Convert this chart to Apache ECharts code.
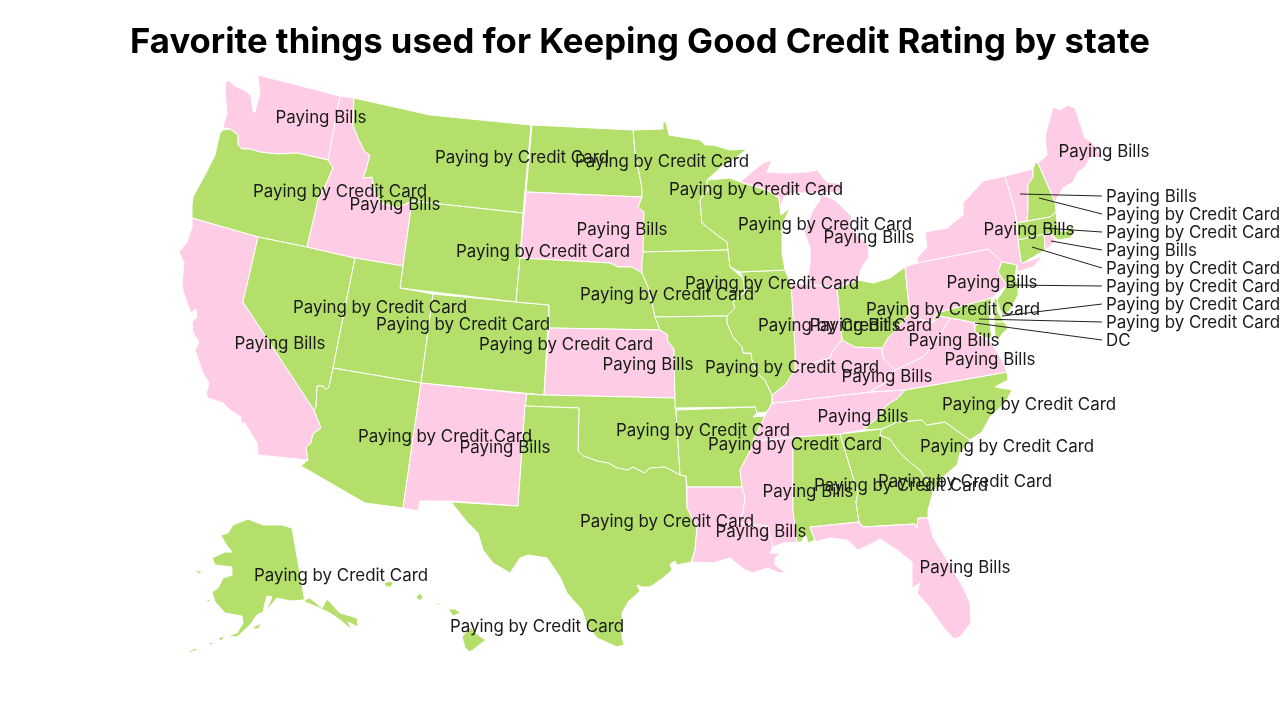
<!DOCTYPE html>
<html>
<head>
<meta charset="utf-8">
<title>Favorite things used for Keeping Good Credit Rating by state</title>
<style>
html, body { margin: 0; padding: 0; background: #fff; }
#chart { width: 1280px; height: 720px; }
</style>
<script src="https://cdn.jsdelivr.net/npm/echarts@6/dist/echarts.min.js"></script>
</head>
<body>
<div id="chart"></div>
<script>
var TITLE = 'Favorite things used for Keeping Good Credit Rating by state';
var BILLS = 'Paying Bills';
var CARD = 'Paying by Credit Card';

// states that carry their label on the map
var STATE_NAMES = ['Washington','Oregon','Idaho','Montana','North Dakota','Minnesota','Wisconsin','Michigan','Wyoming','South Dakota','Nebraska','Iowa','Nevada','Utah','Colorado','Kansas','California','Arizona','New Mexico','Oklahoma','Arkansas','Texas','Louisiana','Mississippi','Alabama','Georgia','South Carolina','North Carolina','Tennessee','Kentucky','Virginia','West Virginia','Illinois','Ohio','Indiana','Pennsylvania','Missouri','New York','Maine','Florida','Alaska','Hawaii'];
var STATE_TOPICS = [BILLS,CARD,BILLS,CARD,CARD,CARD,CARD,BILLS,CARD,BILLS,CARD,CARD,CARD,CARD,CARD,BILLS,BILLS,CARD,BILLS,CARD,CARD,CARD,BILLS,BILLS,CARD,CARD,CARD,CARD,BILLS,BILLS,BILLS,BILLS,CARD,CARD,BILLS,BILLS,CARD,BILLS,BILLS,BILLS,CARD,CARD];
var LABEL_X = [321,340,395,522,662,756,825,869,543,622,667,772,380,463,566,648,280,445,505,703,795,667,761,808,901,965,1007,1029,863,887,990,954,845,953,855,992,792,1029,1104,965,341,537];
var LABEL_Y = [118,192,205,158,162,190,225,238,252,230,295,284,308,325,345,365,344,437,448,431,445,522,532,492,486,482,447,405,417,377,360,341,326,310,326,283,368,230,152,568,576,627];

// small states labelled in the column on the right
var CALLOUT_NAMES = ['Vermont','New Hampshire','Massachusetts','Rhode Island','Connecticut','New Jersey','Delaware','Maryland','District of Columbia'];
var CALLOUT_TOPICS = [BILLS,CARD,CARD,BILLS,CARD,CARD,CARD,CARD,'DC'];
var CALLOUT_FROM_X = [1020,1039,1043,1051,1032,1007,1002,979,975];
var CALLOUT_FROM_Y = [194,198,228,241,247,285,316,319,323];
var CALLOUT_TO_X = [1102,1102,1102,1102,1102,1102,1102,1102,1102];
var CALLOUT_TO_Y = [196,214,232,250,268,286,304,322,340];
var CALLOUT_TEXT_X = 1106;
var CALLOUT_TEXT_Y = [197,215,233,251,269,287,305,323,341];

// map shapes, traced in picture units
var OUTLINES = {
  'Washington': [[[226,82],[228,80],[235,86],[246,91],[251,96],[253,111],[255,112],[258,100],[260,93],[259,86],[258,75],[340,96],[328,160],[297,153],[277,154],[260,152],[250,149],[242,149],[238,145],[238,135],[230,129],[223,128],[224,123],[227,113],[225,90]]],
  'Oregon': [[[223,130],[230,129],[238,135],[238,145],[242,149],[250,149],[260,152],[277,154],[297,153],[328,160],[333,168],[327,182],[318,200],[307,247],[258,237],[192,218],[192,205],[193,197],[205,175],[215,155],[220,133]]],
  'California': [[[192,218],[258,237],[243,302],[314,410],[321,428],[313,434],[311,443],[306,447],[308,460],[258,455],[257,443],[245,423],[241,423],[241,417],[230,410],[223,403],[208,398],[206,394],[209,383],[203,373],[195,350],[199,342],[193,333],[192,322],[197,317],[196,309],[191,313],[187,303],[182,287],[183,273],[184,263],[179,252],[187,242],[192,227]]],
  'Nevada': [[[258,237],[307,247],[355,258],[333,368],[329,387],[326,390],[323,386],[317,386],[316,408],[314,410],[243,302]]],
  'Idaho': [[[340,96],[354,98],[353,125],[358,138],[365,152],[370,155],[366,170],[363,178],[372,177],[375,193],[380,202],[397,208],[412,201],[403,266],[355,258],[307,247],[318,200],[327,182],[333,168],[328,160]]],
  'Montana': [[[354,98],[430,115],[531,125],[523,213],[412,201],[397,208],[380,202],[375,193],[372,177],[363,178],[366,170],[370,155],[365,152],[358,138],[353,125]]],
  'Wyoming': [[[412,201],[523,213],[520,258],[516,302],[400,288],[403,266]]],
  'Utah': [[[355,258],[403,266],[400,288],[433,294],[421,383],[333,368]]],
  'Colorado': [[[433,294],[516,302],[549,305],[544,395],[421,383]]],
  'Arizona': [[[333,368],[421,383],[403,508],[365,503],[301,466],[308,460],[306,447],[311,443],[313,434],[321,428],[314,410],[316,408],[317,386],[323,386],[326,390],[329,387]]],
  'New Mexico': [[[421,383],[527,394],[525,406],[518,506],[451,501],[420,501],[418,511],[403,508]]],
  'North Dakota': [[[532,125],[633,130],[635,152],[642,188],[642,197],[526,192]]],
  'South Dakota': [[[526,192],[642,197],[638,207],[644,212],[644,252],[642,262],[642,273],[632,267],[618,267],[610,263],[520,258]]],
  'Nebraska': [[[520,258],[610,263],[618,267],[632,267],[642,273],[648,287],[653,307],[655,317],[660,330],[549,328],[549,305],[516,302]]],
  'Kansas': [[[549,328],[660,330],[668,335],[667,340],[674,349],[675,398],[544,395]]],
  'Oklahoma': [[[527,394],[544,395],[675,398],[676,410],[680,475],[665,467],[650,468],[644,473],[633,467],[628,470],[617,468],[608,463],[597,461],[592,459],[583,456],[578,451],[579,408],[525,406]]],
  'Texas': [[[525,406],[579,408],[578,451],[583,456],[592,459],[597,461],[608,463],[617,468],[628,470],[633,467],[644,473],[650,468],[665,467],[680,475],[686,476],[687,508],[697,527],[695,550],[691,562],[677,565],[675,561],[670,564],[672,570],[663,578],[650,587],[642,587],[637,585],[640,591],[628,602],[622,613],[622,637],[624,645],[617,647],[597,638],[587,625],[582,610],[567,593],[560,577],[547,558],[528,555],[520,558],[510,573],[493,563],[483,550],[478,533],[467,522],[451,502],[518,506]]],
  'Minnesota': [[[633,130],[663,129],[663,122],[666,122],[669,135],[687,138],[700,140],[705,145],[713,145],[730,150],[747,149],[733,160],[720,168],[707,180],[708,190],[700,200],[702,223],[717,235],[727,242],[728,250],[643,252],[644,212],[638,207],[642,197],[642,188],[635,152]]],
  'Iowa': [[[643,252],[728,250],[730,267],[743,278],[745,292],[733,302],[735,308],[727,316],[655,317],[653,307],[648,287],[642,273],[642,262]]],
  'Missouri': [[[655,317],[727,316],[727,323],[733,337],[742,347],[743,353],[751,353],[752,360],[757,373],[765,380],[772,395],[772,403],[767,412],[757,413],[755,407],[675,408],[675,398],[674,349],[667,340],[668,335],[660,330]]],
  'Arkansas': [[[676,410],[755,407],[757,413],[753,417],[764,416],[767,412],[753,445],[740,470],[742,487],[687,487],[686,476],[680,475]]],
  'Louisiana': [[[687,487],[742,487],[745,497],[743,513],[738,523],[768,526],[773,547],[770,553],[780,553],[775,558],[775,565],[785,572],[780,573],[767,568],[753,573],[745,570],[730,558],[713,563],[692,562],[695,550],[697,527],[687,508]]],
  'Mississippi': [[[753,441],[793,437],[793,510],[797,542],[783,543],[773,547],[768,526],[738,523],[743,513],[745,497],[742,487],[740,470],[753,445]]],
  'Alabama': [[[793,437],[840,434],[850,467],[858,493],[856,502],[859,522],[810,527],[815,540],[808,543],[805,533],[802,542],[797,542],[793,510]]],
  'Georgia': [[[840,434],[882,429],[880,435],[890,439],[900,453],[910,462],[920,470],[927,480],[933,492],[928,510],[928,518],[918,518],[917,528],[915,524],[863,527],[859,522],[856,502],[858,493],[850,467]]],
  'Florida': [[[810,527],[859,522],[863,527],[915,524],[917,528],[918,518],[928,518],[933,537],[947,560],[963,587],[970,603],[971,623],[960,637],[954,639],[943,627],[930,608],[917,593],[920,583],[912,588],[912,562],[897,550],[880,539],[873,543],[858,550],[847,540],[830,538],[815,542],[815,540]]],
  'South Carolina': [[[882,429],[897,422],[922,420],[927,425],[945,422],[970,440],[960,453],[957,465],[943,477],[933,492],[927,480],[920,470],[910,462],[900,453],[890,439],[880,435]]],
  'North Carolina': [[[905,390],[1007,372],[1008,380],[995,387],[1012,390],[1005,403],[990,417],[982,432],[970,440],[945,422],[927,425],[922,420],[897,422],[882,429],[863,430],[877,418],[887,405],[898,398]]],
  'Tennessee': [[[772,403],[792,401],[870,392],[905,390],[898,398],[887,405],[877,418],[863,430],[840,434],[793,437],[753,441],[763,420],[767,412]]],
  'Kentucky': [[[842,340],[855,347],[882,348],[883,358],[895,370],[885,383],[870,392],[792,401],[772,403],[772,395],[785,385],[795,370],[815,362],[830,358],[832,352]]],
  'Virginia': [[[895,370],[923,357],[937,340],[950,318],[962,320],[975,323],[975,332],[985,338],[992,344],[997,352],[1003,362],[1007,372],[905,390],[870,392],[885,383]]],
  'West Virginia': [[[910,313],[917,318],[932,323],[940,316],[950,318],[937,340],[923,357],[895,370],[883,358],[882,348],[888,338],[893,333],[900,325]]],
  'Ohio': [[[837,288],[858,280],[873,283],[890,278],[905,267],[908,297],[910,313],[900,325],[893,333],[888,338],[882,348],[855,347],[842,340]]],
  'Indiana': [[[791,284],[807,284],[837,288],[842,340],[832,352],[830,358],[815,362],[795,370],[795,350]]],
  'Illinois': [[[740,272],[785,270],[791,284],[795,350],[795,370],[785,385],[772,395],[765,380],[757,373],[752,360],[751,353],[743,353],[742,347],[733,337],[727,323],[727,316],[735,308],[733,302],[745,292],[743,278]]],
  'Wisconsin': [[[707,180],[730,178],[740,182],[767,190],[779,198],[781,215],[790,208],[782,225],[782,253],[785,270],[740,272],[730,267],[728,250],[727,242],[717,235],[702,223],[700,200],[708,190]]],
  'Michigan': [
    [[740,182],[763,163],[772,160],[767,172],[785,173],[808,172],[817,170],[827,182],[843,184],[842,192],[820,193],[793,193],[784,197],[780,207],[779,198],[767,190]],
    [[804,232],[813,210],[818,203],[822,195],[835,200],[852,217],[850,228],[868,245],[869,257],[862,267],[858,280],[837,288],[807,284],[810,263],[810,247]]
  ],
  'Pennsylvania': [[[905,267],[917,263],[988,249],[995,255],[1002,262],[998,272],[1007,285],[992,298],[948,310],[937,313],[932,323],[917,318],[910,313],[908,297]]],
  'New York': [[[917,263],[917,258],[927,247],[925,232],[947,228],[963,215],[963,203],[983,181],[1005,176],[1007,183],[1015,210],[1018,240],[1021,261],[1023,263],[1043,256],[1033,267],[1017,272],[1017,265],[1002,262],[995,255],[988,249]]],
  'Vermont': [[[1005,176],[1033,169],[1033,177],[1028,185],[1028,210],[1027,221],[1017,223],[1015,210],[1007,183]]],
  'New Hampshire': [[[1033,169],[1035,163],[1038,163],[1055,202],[1056,212],[1050,217],[1027,221],[1028,210],[1028,185],[1033,177]]],
  'Maine': [[[1038,163],[1047,155],[1045,137],[1048,125],[1053,107],[1060,110],[1068,105],[1075,108],[1085,138],[1092,142],[1102,157],[1090,158],[1085,167],[1078,172],[1073,182],[1063,188],[1055,202]]],
  'Massachusetts': [[[1017,223],[1050,217],[1056,212],[1057,223],[1058,230],[1065,232],[1072,226],[1075,232],[1070,238],[1058,240],[1050,233],[1018,240]]],
  'Rhode Island': [[[1044,234],[1050,233],[1056,241],[1050,246],[1045,250]]],
  'Connecticut': [[[1018,240],[1044,234],[1045,250],[1023,263],[1021,261]]],
  'New Jersey': [[[1002,262],[1017,265],[1015,275],[1018,287],[1018,295],[1010,310],[1003,316],[1000,310],[997,300],[1007,285],[998,272]]],
  'Delaware': [[[994,298],[997,299],[998,312],[1004,322],[994,322]]],
  'Maryland': [
    [[932,323],[937,313],[948,310],[992,298],[989,308],[990,325],[992,338],[985,338],[975,332],[975,323],[962,320],[950,318],[940,316]],
    [[994,322],[1004,322],[1008,328],[1002,334],[998,341],[995,335]]
  ],
  'District of Columbia': [[[974,322],[977,322],[977,325],[974,325]]],
  'Alaska': [
    [[292,528],[282,525],[263,525],[248,519],[233,525],[228,533],[221,535],[225,543],[232,552],[225,552],[212,558],[215,565],[232,567],[232,575],[223,578],[218,588],[212,592],[215,602],[225,613],[242,616],[243,623],[237,633],[228,636],[237,637],[250,625],[257,615],[263,612],[265,603],[267,596],[272,597],[266,611],[277,598],[290,601],[303,600],[310,598],[322,608],[327,599],[340,613],[357,618],[358,627],[348,622],[352,630],[340,620],[330,613],[317,607],[305,602]],
    [[253,627],[262,623],[258,629],[254,629]],
    [[208,643],[213,642],[212,645]],
    [[218,638],[225,636],[221,641]],
    [[194,570],[200,571],[202,575],[198,573]],
    [[205,600],[210,599],[210,602]],
    [[188,652],[196,648],[197,650],[189,653]]
  ],
  'Hawaii': [
    [[462,637],[470,627],[478,635],[486,640],[470,652],[465,648]],
    [[448,609],[455,609],[461,613],[453,616]],
    [[435,604],[440,603],[440,605],[435,605]],
    [[416,597],[420,593],[423,597],[421,600],[418,600]],
    [[384,583],[390,581],[393,583],[391,587],[386,587]]
  ]
};

function map_point(x, y){
    return [x, -y];
}

function get_geojson(){
    var features = [];
    for(var name in OUTLINES){
        var polygons = OUTLINES[name].map(function(ring){
            return [ring.concat([ring[0]]).map(function(p){ return map_point(p[0], p[1]); })];
        });
        features.push({
            type: 'Feature',
            properties: { name: name },
            geometry: { type: 'MultiPolygon', coordinates: polygons }
        });
    }
    return { type: 'FeatureCollection', features: features };
}

function topic_color(topic){
    return topic == BILLS ? '#FFCCE6' : '#B4DF6A';
}

function get_regions(){
    var regions = [];
    var names = STATE_NAMES.concat(CALLOUT_NAMES);
    var topics = STATE_TOPICS.concat(CALLOUT_TOPICS);
    for(var i = 0; i < names.length; i ++){
        var color = names[i] == 'District of Columbia' ? '#FFCCE6' : topic_color(topics[i]);
        regions.push({ name: names[i], itemStyle: { areaColor: color } });
    }
    return regions;
}

function get_option(){
    var stateLabels = STATE_NAMES.map(function(name, i){
        return { name: name, value: map_point(LABEL_X[i], LABEL_Y[i]), text: STATE_TOPICS[i] };
    });
    var calloutLabels = CALLOUT_NAMES.map(function(name, i){
        return { name: name, value: map_point(CALLOUT_TEXT_X, CALLOUT_TEXT_Y[i]), text: CALLOUT_TOPICS[i] };
    });
    var calloutLines = CALLOUT_NAMES.map(function(name, i){
        return {
            name: name,
            coords: [map_point(CALLOUT_FROM_X[i], CALLOUT_FROM_Y[i]), map_point(CALLOUT_TO_X[i], CALLOUT_TO_Y[i])]
        };
    });
    var labelText = {
        show: true,
        color: '#1a1a1a',
        opacity: 1,
        fontFamily: 'Inter',
        fontSize: 16.9,
        formatter: function(params){ return params.data.text; }
    };
    return {
        backgroundColor: '#ffffff',
        animation: false,
        title: {
            text: TITLE,
            left: 'center',
            top: 20,
            textStyle: { color: '#000', fontFamily: 'Inter', fontWeight: 'bold', fontSize: 34.7 }
        },
        tooltip: { show: false },
        geo: {
            map: 'usa',
            roam: false,
            silent: true,
            aspectScale: 1,
            left: 0,
            top: 0,
            width: 1280,
            height: 720,
            boundingCoords: [[0, 0], [1280, -720]],
            label: { show: false },
            itemStyle: { areaColor: '#FFCCE6', borderColor: '#ffffff', borderWidth: 1 },
            regions: get_regions()
        },
        series: [{
            type: 'lines',
            coordinateSystem: 'geo',
            silent: true,
            z: 3,
            lineStyle: { color: '#222', width: 1, opacity: 1 },
            data: calloutLines
        }, {
            type: 'scatter',
            coordinateSystem: 'geo',
            silent: true,
            symbolSize: 0,
            itemStyle: { opacity: 1 },
            z: 4,
            label: Object.assign({}, labelText, { position: 'inside' }),
            data: stateLabels
        }, {
            type: 'scatter',
            coordinateSystem: 'geo',
            silent: true,
            symbolSize: 0,
            itemStyle: { opacity: 1 },
            z: 4,
            label: Object.assign({}, labelText, { position: 'right', distance: 0 }),
            data: calloutLabels
        }]
    };
}

echarts.registerMap('usa', get_geojson());
var myChart = echarts.init(document.getElementById('chart'), null, { renderer: 'canvas' });
myChart.setOption(get_option());
</script>
</body>
</html>
